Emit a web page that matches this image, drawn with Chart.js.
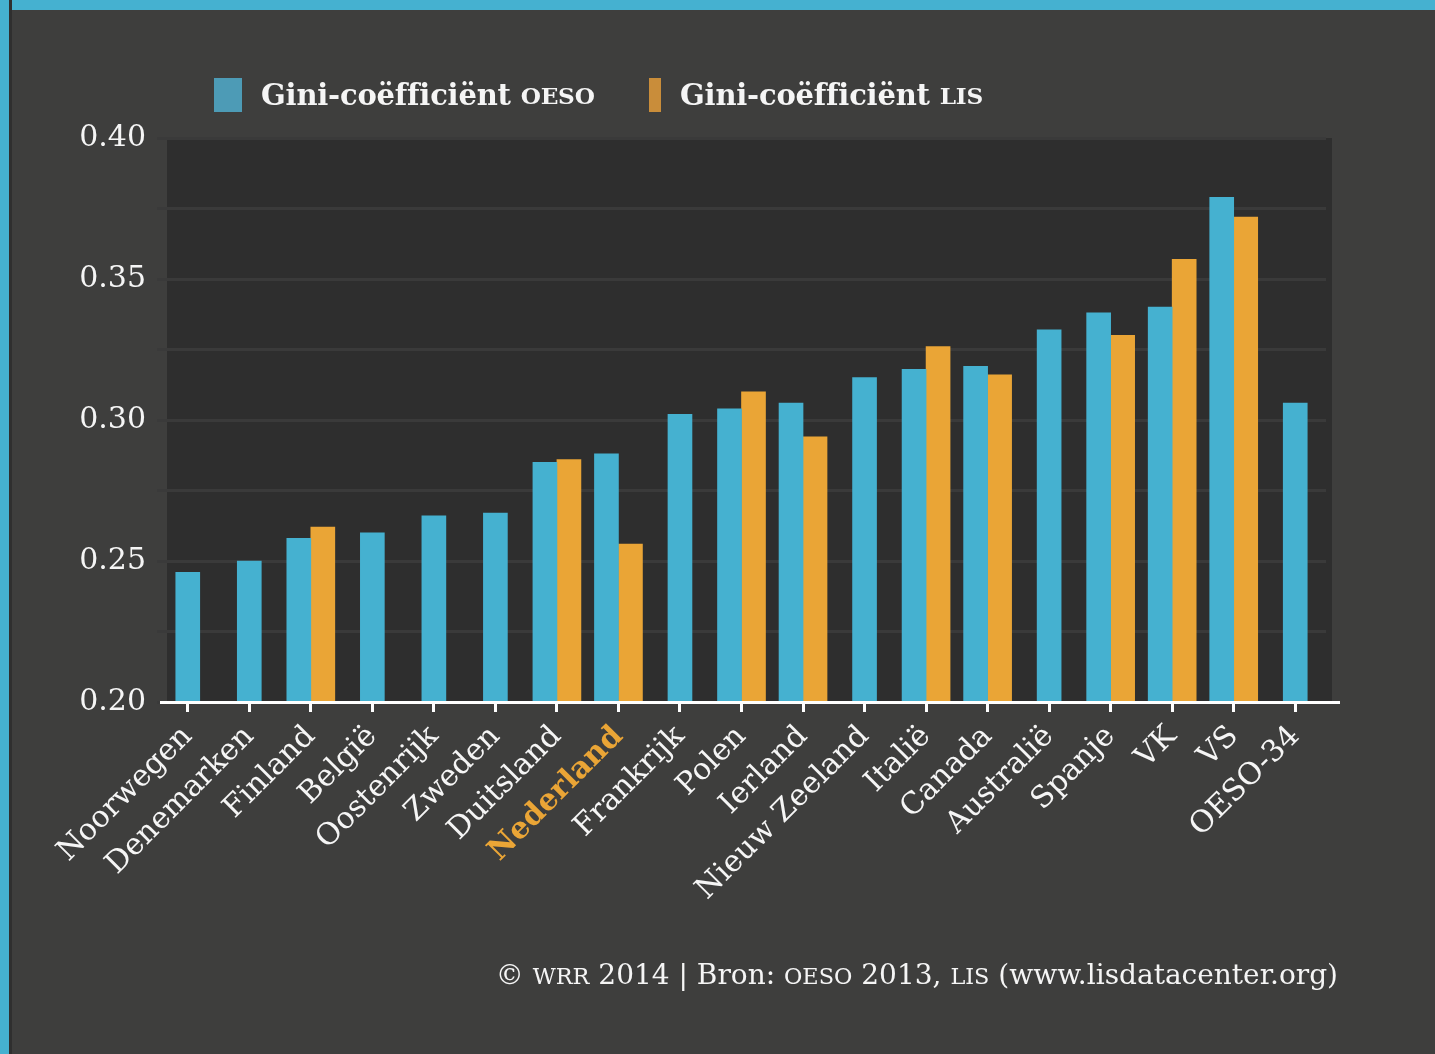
<!DOCTYPE html>
<html>
<head>
<meta charset="utf-8">
<script src="https://cdn.jsdelivr.net/npm/chart.js@4.4.1/dist/chart.umd.min.js"></script>
<style>
  html, body { margin: 0; padding: 0; }
  body {
    width: 1435px; height: 1054px; overflow: hidden; position: relative;
    background: #3e3e3d;
    font-family: "DejaVu Serif", serif; color: #f5f5f5;
  }
  #topbar { position: absolute; left: 0; top: 0; width: 1435px; height: 10px; background: #45b1d0; }
  #leftbar { position: absolute; left: 0; top: 0; width: 9px; height: 1054px; background: #45b1d0; border-right: 3px solid #2f2f2f; }
  #wrap { position: absolute; left: 0; top: 0; width: 1435px; height: 1054px; }
  .legend-item { position: absolute; top: 78px; height: 34px; display: flex; align-items: center; font-weight: bold; font-size: 29px; letter-spacing: -0.2px; white-space: nowrap; }
  .legend-box { height: 34px; margin-right: 19px; }
  .sc { font-size: 0.8em; }
  #footer { position: absolute; right: 97px; top: 958px; font-size: 28px; white-space: nowrap; }
</style>
</head>
<body>
<div id="topbar"></div>
<div id="leftbar"></div>
<div id="wrap"><canvas id="myChart" width="1435" height="1054"></canvas></div>
<div class="legend-item" style="left:214px"><span class="legend-box" style="width:28px;background:#4d9bb6"></span>Gini-coëfficiënt&nbsp;<span class="sc">OESO</span></div>
<div class="legend-item" style="left:649px"><span class="legend-box" style="width:12px;background:#c98d3a"></span>Gini-coëfficiënt&nbsp;<span class="sc">LIS</span></div>
<div id="footer">© <span class="sc">WRR</span> 2014 | Bron: <span class="sc">OESO</span> 2013, <span class="sc">LIS</span> (www.lisdatacenter.org)</div>
<script>
// Landen (x-as)
const countries = ['Noorwegen', 'Denemarken', 'Finland', 'België', 'Oostenrijk', 'Zweden', 'Duitsland',
  'Nederland', 'Frankrijk', 'Polen', 'Ierland', 'Nieuw Zeeland', 'Italië', 'Canada', 'Australië',
  'Spanje', 'VK', 'VS', 'OESO-34'];

// Gini-coëfficiënt volgens OESO
const giniOeso = [0.246, 0.250, 0.258, 0.260, 0.266, 0.267, 0.285, 0.288, 0.302, 0.304, 0.306,
  0.315, 0.318, 0.319, 0.332, 0.338, 0.340, 0.379, 0.306];

// Gini-coëfficiënt volgens LIS (null = geen data)
const giniLis = [null, null, 0.262, null, null, null, 0.286, 0.256, null, 0.310, 0.294,
  null, 0.326, 0.316, null, 0.330, 0.357, 0.372, null];

// y-as
const yMin = 0.20;
const yMax = 0.40;
const yStep = 0.025;

const highlight = 'Nederland';
const blue = '#45b1d0';
const orange = '#eaa536';
const fontFamily = '"DejaVu Serif", serif';

// dark plot background behind the bars, and the white base line
const plotBackground = {
  id: 'plotBackground',
  beforeDraw(chart) {
    const { ctx, chartArea } = chart;
    ctx.save();
    ctx.fillStyle = '#2e2e2e';
    ctx.fillRect(chartArea.left + 10, chartArea.top, chartArea.width - 4, chartArea.height);
    ctx.restore();
  },
  afterDatasetsDraw(chart) {
    const { ctx, chartArea } = chart;
    ctx.save();
    ctx.strokeStyle = '#ffffff';
    ctx.lineWidth = 3;
    ctx.beginPath();
    ctx.moveTo(chartArea.left + 3, chartArea.bottom + 0.5);
    ctx.lineTo(chartArea.right + 14, chartArea.bottom + 0.5);
    ctx.stroke();
    ctx.restore();
  }
};

const config = {
  type: 'bar',
  data: {
    labels: countries,
    datasets: [
      { label: 'Gini-coëfficiënt OESO', data: giniOeso, backgroundColor: blue },
      { label: 'Gini-coëfficiënt LIS', data: giniLis, backgroundColor: orange }
    ]
  },
  options: {
    responsive: false,
    animation: false,
    devicePixelRatio: 1,
    skipNull: true,
    barThickness: 24,
    layout: { padding: { left: 0, top: 138, right: 109, bottom: 0 } },
    plugins: {
      legend: { display: false },
      tooltip: { enabled: false }
    },
    scales: {
      x: {
        afterFit: scale => { scale.height = 352; },
        grid: {
          offset: false,
          drawOnChartArea: false,
          drawTicks: true,
          tickLength: 10,
          tickWidth: 3,
          tickColor: '#ffffff'
        },
        border: { display: false },
        ticks: {
          maxRotation: 45,
          minRotation: 45,
          autoSkip: false,
          padding: 7,
          color: ctx => countries[ctx.index] === highlight ? orange : '#f5f5f5',
          font: ctx => ({
            family: fontFamily,
            size: 30,
            weight: countries[ctx.index] === highlight ? 'bold' : 'normal'
          })
        }
      },
      y: {
        min: yMin,
        max: yMax,
        afterFit: scale => { scale.width = 157; },
        border: { display: false },
        grid: { color: '#3a3a3a', lineWidth: 3, drawTicks: false },
        ticks: {
          stepSize: yStep,
          padding: 11,
          color: '#f5f5f5',
          font: { family: fontFamily, size: 30 },
          callback: v => (Math.round(v * 1000) % 50 === 0 ? v.toFixed(2) : '')
        }
      }
    }
  },
  plugins: [plotBackground]
};

const ctx = document.getElementById('myChart').getContext('2d');
new Chart(ctx, config);
</script>
</body>
</html>
